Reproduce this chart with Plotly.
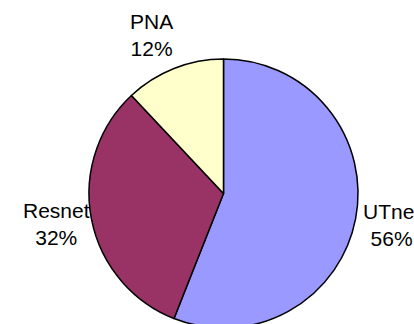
import plotly.graph_objects as go

# Share of work by group
labels = ["UTnet", "Resnet", "PNA"]
values = [56, 32, 12]
colors = ["#9999FF", "#993366", "#FFFFCC"]

# Label anchor points (pixel centres of each two-line label)
label_px = {"UTnet": (391, 224.5), "Resnet": (56.5, 223.5), "PNA": (151, 34.5)}

W, H = 414, 330
ML, MT, SIDE = 89, 59, 269
MR = W - ML - SIDE
MB = H - MT - SIDE


def to_paper(px, py):
    return (px - ML) / SIDE, 1 - (py - MT) / SIDE


total = sum(values)
fig = go.Figure(
    go.Pie(
        labels=labels,
        values=values,
        sort=False,
        direction="clockwise",
        rotation=0,
        textinfo="none",
        hoverinfo="label+percent",
        marker=dict(colors=colors, line=dict(color="black", width=1.5)),
        domain=dict(x=[0, 1], y=[0, 1]),
    )
)

annotations = []
for lab, val in zip(labels, values):
    x, y = to_paper(*label_px[lab])
    pct = round(100 * val / total)
    annotations.append(
        dict(
            text=f"{lab}<br>{pct}%",
            x=x,
            y=y,
            xref="paper",
            yref="paper",
            xanchor="center",
            yanchor="middle",
            showarrow=False,
            align="center",
            font=dict(family="Liberation Sans, Arial, sans-serif", size=21, color="black"),
        )
    )

fig.update_layout(
    width=W,
    height=H,
    margin=dict(l=ML, r=MR, t=MT, b=MB, autoexpand=False),
    paper_bgcolor="white",
    plot_bgcolor="white",
    showlegend=False,
    annotations=annotations,
)

fig.write_html(
    "out.html",
    post_script="document.documentElement.style.overflow='hidden';document.body.style.overflow='hidden';",
)
